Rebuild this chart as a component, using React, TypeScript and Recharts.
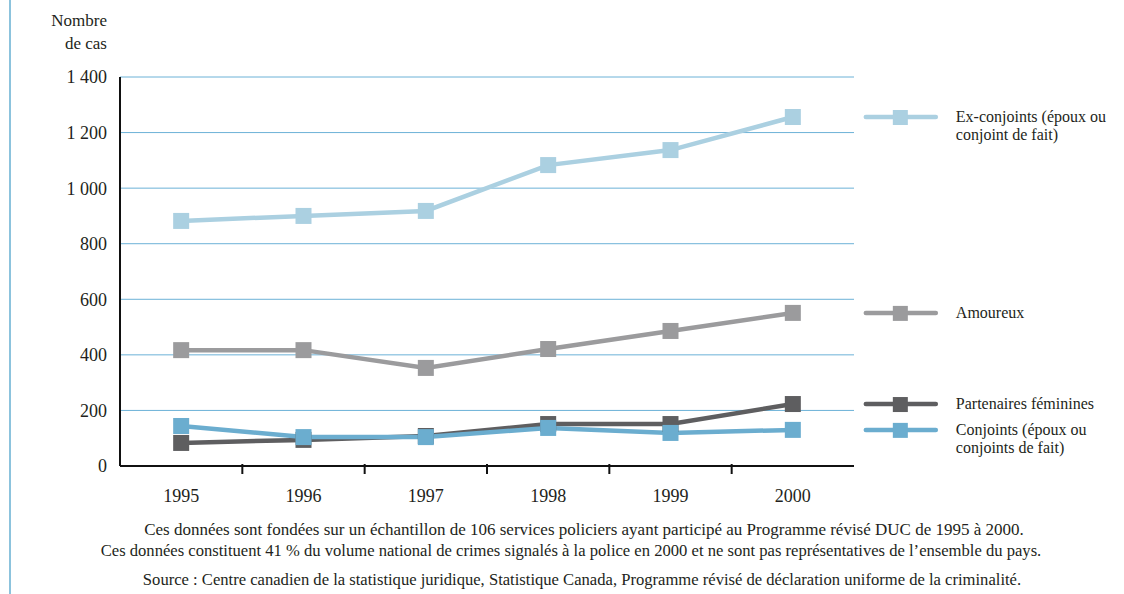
import { LineChart, Line, XAxis, YAxis, CartesianGrid } from 'recharts';

const years = ['1995', '1996', '1997', '1998', '1999', '2000'];
const exConjoints = [882, 900, 918, 1083, 1137, 1256];
const amoureux = [417, 417, 353, 421, 486, 551];
const partenaires = [83, 94, 108, 151, 151, 223];
const conjoints = [144, 104, 104, 137, 119, 130];
const yTicks = [0, 200, 400, 600, 800, 1000, 1200, 1400];

const FONT = "'Liberation Serif', 'Times New Roman', 'DejaVu Serif', serif";
const TEXT = '#231f20';

const data = years.map((year, i) => ({
  year,
  ex: exConjoints[i],
  amo: amoureux[i],
  part: partenaires[i],
  conj: conjoints[i],
}));

const series = [
  { key: 'ex', color: '#abd0e1', label: ['Ex-conjoints (époux ou', 'conjoint de fait)'] },
  { key: 'amo', color: '#9b9b9d', label: ['Amoureux'] },
  { key: 'part', color: '#5e5e60', label: ['Partenaires féminines'] },
  { key: 'conj', color: '#6badcf', label: ['Conjoints (époux ou', 'conjoints de fait)'] },
];

function formatThousands(v: number): string {
  return v >= 1000 ? `${Math.floor(v / 1000)} ${String(v % 1000).padStart(3, '0')}` : String(v);
}

function SquareDot({ cx, cy, color }: any) {
  if (cx == null || cy == null) return null;
  return <rect x={cx - 8} y={cy - 8} width={16} height={16} fill={color} />;
}

// legend entry drawn next to the last point of each series
function EndLegend({ x, y, index, color, label }: any) {
  if (index !== years.length - 1) return <g />;
  const lx = x + 73;
  return (
    <g>
      <line x1={lx} y1={y} x2={lx + 70} y2={y} stroke={color} strokeWidth={4.5} strokeLinecap="round" />
      <rect x={lx + 27} y={y - 7} width={15} height={15} fill={color} />
      <text x={lx + 90} y={y} fontFamily={FONT} fontSize={16} fill={TEXT}>
        {label.map((t: string, i: number) => (
          <tspan key={i} x={lx + 90} dy={i === 0 ? 5 : 18}>{t}</tspan>
        ))}
      </text>
    </g>
  );
}

function XTick({ x, y, payload }: any) {
  const half = payload?.offset ?? 0;
  const last = payload.value === years[years.length - 1];
  return (
    <g>
      {!last && <line x1={x + half} y1={y - 10} x2={x + half} y2={y} stroke="#111" strokeWidth={2} />}
      <text x={x} y={y + 28} textAnchor="middle" fontFamily={FONT} fontSize={18} fill={TEXT}>
        {payload.value}
      </text>
    </g>
  );
}

const footStyle = { position: 'absolute' as const, width: 1000, fontSize: 17, textAlign: 'center' as const, lineHeight: '20px', whiteSpace: 'nowrap' as const };

export default function App() {
  return (
    <div style={{ position: 'absolute', left: 0, top: 0, width: 1124, height: 594, background: '#fff', fontFamily: FONT, color: TEXT }}>
      <div style={{ position: 'absolute', left: 9, top: 0, width: 2, height: 594, background: '#8cc3dd' }} />
      <div style={{ position: 'absolute', right: 1017, top: 9, fontSize: 17, lineHeight: '23px', textAlign: 'right' }}>
        Nombre<br />de cas
      </div>
      <LineChart width={1124} height={594} data={data} margin={{ top: 77, right: 270, left: 0, bottom: 88 }}>
        <CartesianGrid vertical={false} stroke="#6cb2d7" strokeWidth={1} />
        <XAxis
          dataKey="year"
          scale="band"
          height={40}
          axisLine={{ stroke: '#111', strokeWidth: 2 }}
          tickLine={false}
          tick={<XTick />}
        />
        <YAxis
          width={120}
          domain={[0, 1400]}
          ticks={yTicks}
          interval={0}
          tickFormatter={formatThousands}
          axisLine={{ stroke: '#111', strokeWidth: 2 }}
          tickLine={false}
          tickSize={0}
          tickMargin={13}
          tick={{ fill: TEXT, fontSize: 18, fontFamily: FONT }}
        />
        {series.map((s) => (
          <Line
            key={s.key}
            dataKey={s.key}
            type="linear"
            stroke={s.color}
            strokeWidth={4.5}
            dot={<SquareDot color={s.color} />}
            activeDot={false}
            isAnimationActive={false}
            label={(p: any) => <EndLegend {...p} color={s.color} label={s.label} />}
          />
        ))}
      </LineChart>
      <div style={{ ...footStyle, left: 84, top: 520 }}>
        Ces données sont fondées sur un échantillon de 106 services policiers ayant participé au Programme révisé DUC de 1995 à 2000.
      </div>
      <div style={{ ...footStyle, left: 71, top: 541, fontSize: 16.6 }}>
        Ces données constituent 41 % du volume national de crimes signalés à la police en 2000 et ne sont pas représentatives de l’ensemble du pays.
      </div>
      <div style={{ ...footStyle, left: 82, top: 570, fontSize: 16.6 }}>
        Source : Centre canadien de la statistique juridique, Statistique Canada, Programme révisé de déclaration uniforme de la criminalité.
      </div>
    </div>
  );
}
